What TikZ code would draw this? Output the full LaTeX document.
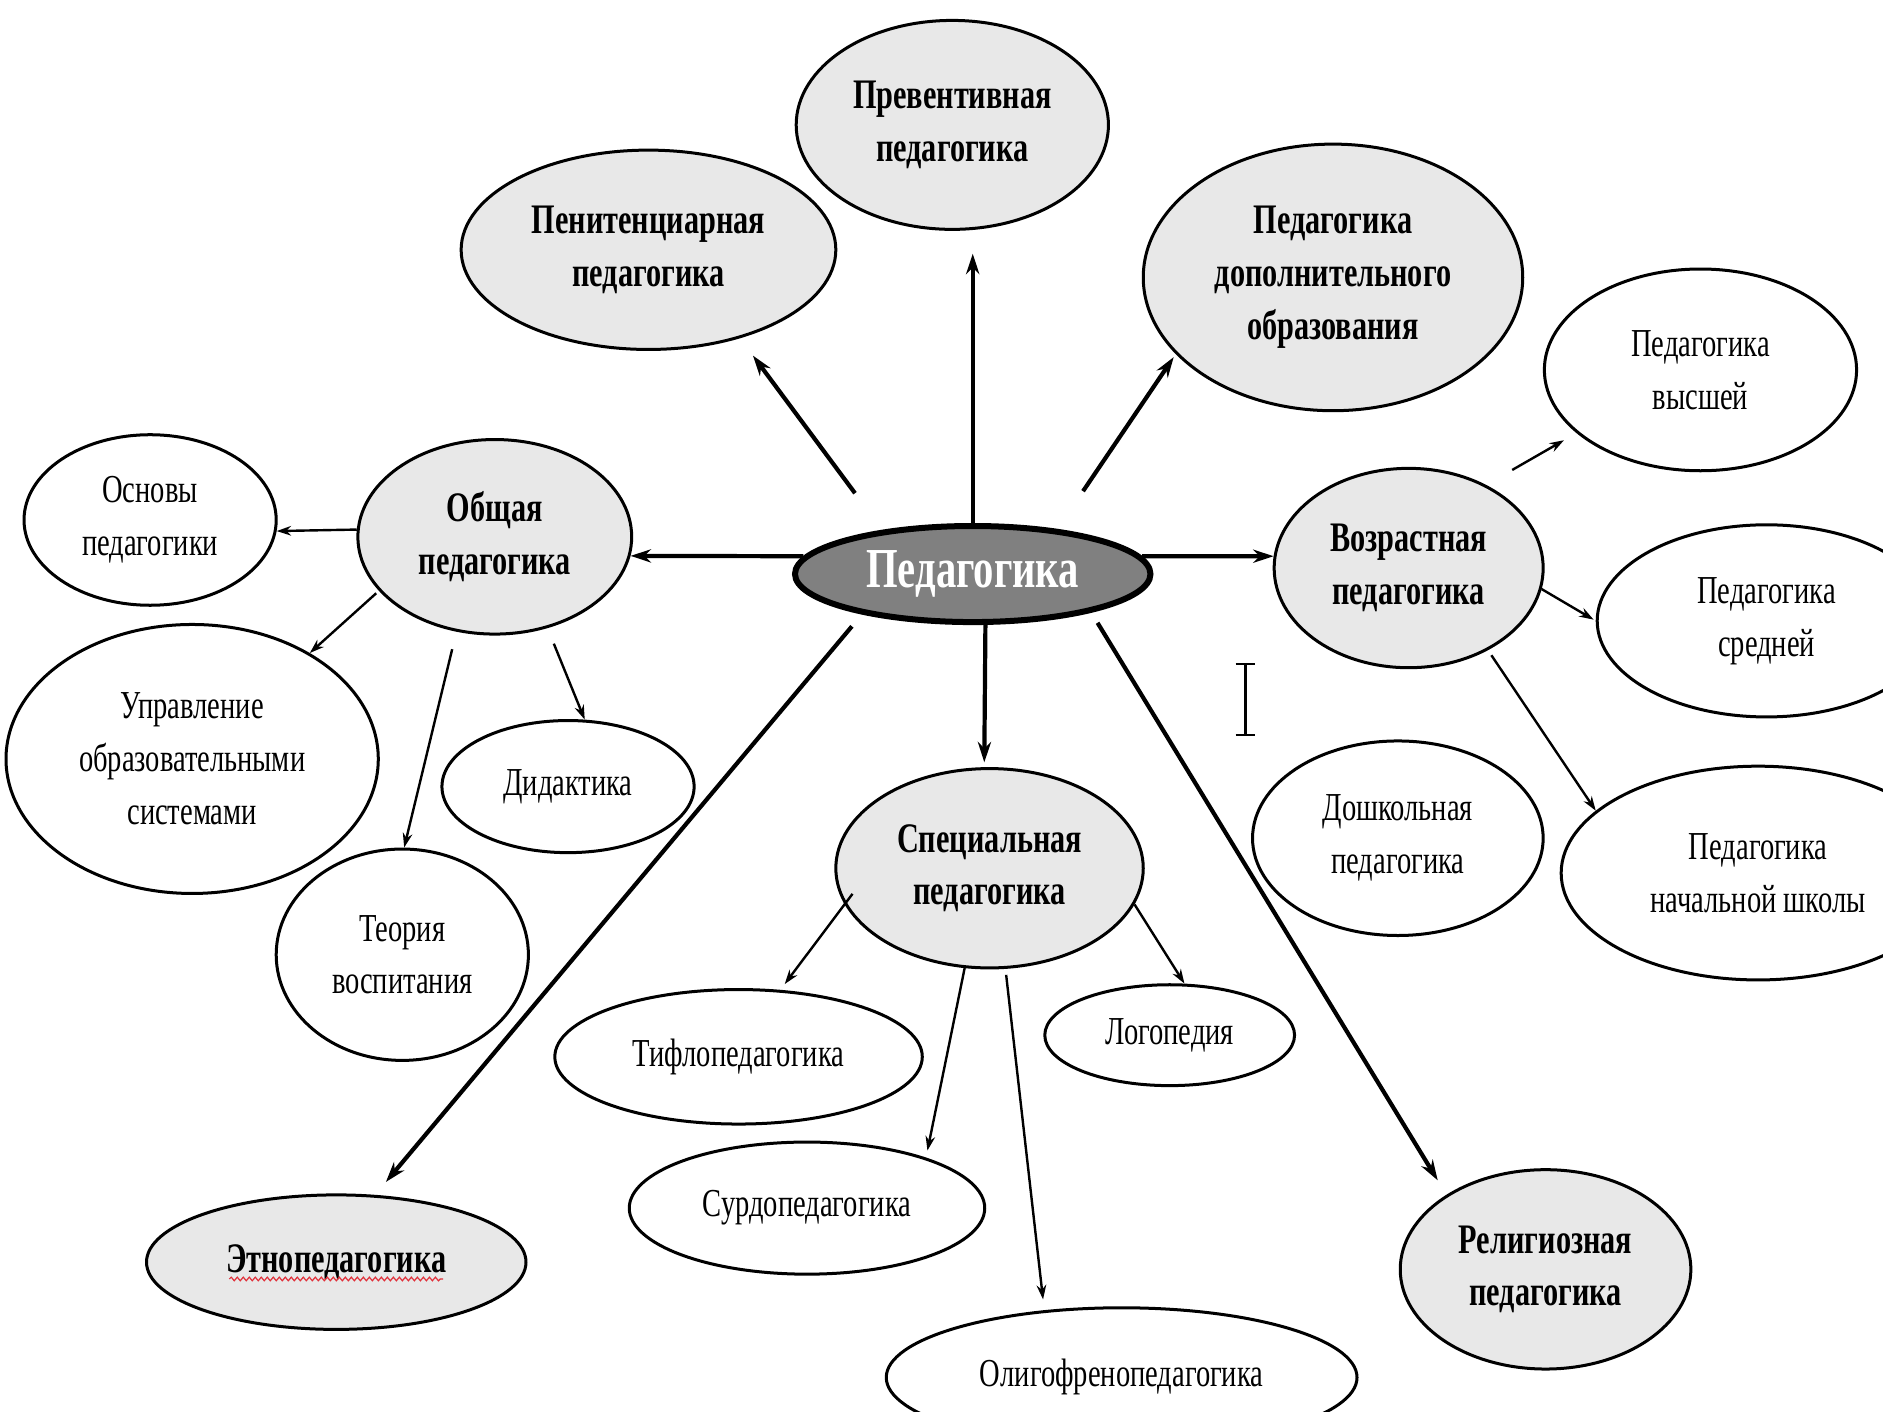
\documentclass[tikz,border=0pt]{standalone}
\usepackage{fontspec}
\setmainfont{Liberation Serif}[FakeStretch=0.72]
\usetikzlibrary{shapes.geometric, arrows.meta, decorations.pathmorphing}
\definecolor{hubgray}{HTML}{808080}
\definecolor{branchgray}{HTML}{E8E8E8}
\definecolor{spellred}{HTML}{E0303A}

\begin{document}
\begin{tikzpicture}[x=1pt, y=-1pt,
    every node/.style={ellipse, draw, line width=2.5pt, inner sep=0pt, align=center},
    hub/.style={fill=hubgray, line width=5pt, text=white, font=\fontsize{47}{56}\selectfont\bfseries},
    branch/.style={fill=branchgray, font=\fontsize{35}{44}\selectfont\bfseries},
    leaf/.style={fill=white, font=\fontsize{33}{44}\selectfont},
    link/.style={line width=3.5pt, -{Stealth[length=17pt,width=11pt]}},
    sublink/.style={line width=2pt, -{Stealth[length=12pt,width=8pt]}}]
  \path[use as bounding box, fill=white] (0,0) rectangle (1568,1175);
  \clip (0,0) rectangle (1568,1175);

  \node[hub, minimum width=296pt, minimum height=80pt] (ped) at (810,478) {Педагогика};
  \foreach \n/\x/\y/\bw/\bh/\txt in {
      prev/793/104/260/174/{Превентивная\\педагогика},
      pen/540/208/312/166/{Пенитенциарная\\педагогика},
      dop/1110/231/316/222/{Педагогика\\дополнительного\\образования},
      obsh/412/447/228/162/{Общая\\педагогика},
      voz/1173/473/224/166/{Возрастная\\педагогика},
      spec/824/723/256/166/{Специальная\\педагогика},
      etno/280/1051/316/112/{Этнопедагогика},
      rel/1287/1057/242/166/{Религиозная\\педагогика}}
    \node[branch, minimum width=\bw pt, minimum height=\bh pt] (\n) at (\x,\y) {\txt};
  \foreach \n/\x/\y/\bw/\bh/\txt in {
      osn/125/433/210/142/{Основы\\педагогики},
      upr/160/632/310/224/{Управление\\образовательными\\системами},
      did/473/655/210/110/{Дидактика},
      teor/335/795/210/176/{Теория\\воспитания},
      vys/1416/308/260/168/{Педагогика\\высшей},
      sred/1471/517/282/160/{Педагогика\\средней},
      nach/1464/727/328/178/{Педагогика\\начальной школы},
      dosh/1164/698/242/162/{Дошкольная\\педагогика},
      tifl/615/880/306/112/{Тифлопедагогика},
      logo/974/862/208/84/{Логопедия},
      surdo/672/1006/296/110/{Сурдопедагогика},
      olig/934/1147/392/116/{Олигофренопедагогика}}
    \node[leaf, minimum width=\bw pt, minimum height=\bh pt] (\n) at (\x,\y) {\txt};

  \draw[link, shorten >=19pt] (ped.north) -- (ped.north |- prev.south);
  \foreach \a/\p/\b/\q/\s/\e in {
      ped/154.5/pen/-44.8/38pt/18pt, ped/28.5/dop/206/38pt/3pt,
      ped/174/obsh/-8/0pt/0pt, ped/6/voz/175/0pt/0pt,
      ped/-76/spec/93/0pt/4pt, ped/200/etno/60/13pt/14pt,
      ped/-18.7/rel/143/10pt/14pt}
    \draw[link, shorten <=\s, shorten >=\e] (\a.\p) -- (\b.\q);
  \foreach \a/\p/\b/\q/\s/\e in {
      obsh/177.5/osn/-5/0pt/0pt, obsh/-155/upr/42/3pt/0pt,
      obsh/-112.6/teor/89/15pt/0pt, obsh/-60/did/76/14pt/0pt,
      voz/47/vys/-153/25pt/12pt, voz/-9/sred/180/0pt/2pt,
      voz/-46.6/nach/159/5pt/0pt, spec/-166/tifl/58/-11pt/6pt,
      spec/-104/surdo/23/0pt/6pt, spec/-81/olig/139/5pt/9pt,
      spec/-14/logo/74/0pt/0pt}
    \draw[sublink, shorten <=\s, shorten >=\e] (\a.\p) -- (\b.\q);

  \draw[spellred, line width=1pt, decorate, decoration={snake, amplitude=1.5pt, segment length=5pt}]
    ([xshift=-89pt, yshift=-14pt]etno.center) -- ([xshift=89pt, yshift=-14pt]etno.center);
  \draw[line width=2pt] (1037,553) -- (1037,612) (1029,553) -- (1045,553) (1029,612) -- (1045,612);
\end{tikzpicture}
\end{document}
